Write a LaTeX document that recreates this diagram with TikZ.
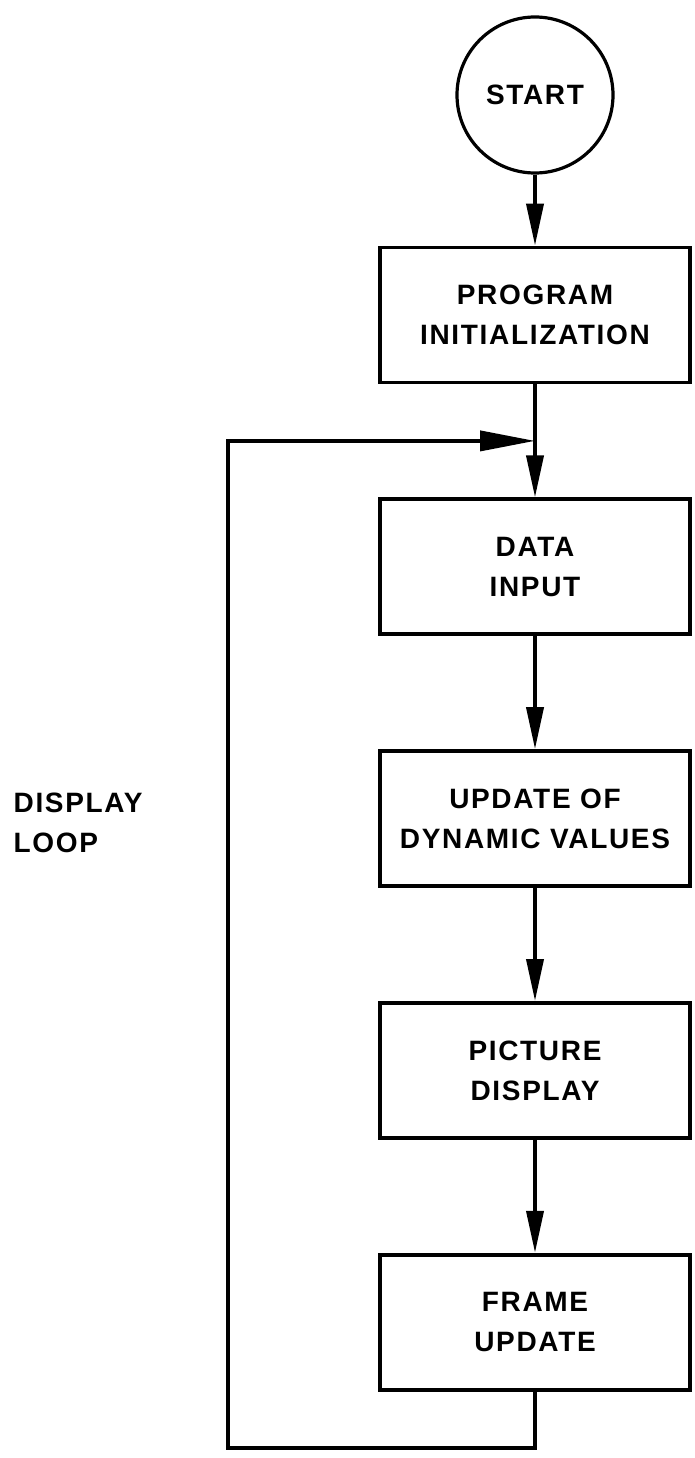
\documentclass[tikz,border=0pt]{standalone}
\usepackage{fontspec}
\newfontfamily\chartfont{Liberation Sans}[LetterSpace=6]
\usetikzlibrary{arrows.meta, positioning, backgrounds, calc}

\begin{document}
\begin{tikzpicture}[
	background rectangle/.style={fill=white},
    show background rectangle,
    % Styles for blocks and arrows
    every node/.style={font=\chartfont\bfseries\fontsize{28}{40}\selectfont},
    block/.style={draw, rectangle, minimum height=135pt, minimum width=310pt, line width=3.8pt, align=center},
    terminal/.style={draw, circle, inner sep=0pt, minimum size=156pt, line width=3.2pt},
    connector/.style={-{Triangle[length=42pt, width=17pt]}, line width=3.8pt},
    loopback/.style={-{Triangle[length=55pt, width=20pt]}, line width=3.8pt},
    node distance=113pt
]
    \useasboundingbox (0,0) rectangle (694pt,-1458pt);

    % --- NODES ---
    % Starting from top to bottom
    \node [terminal] (start) at (535pt,-95pt) {START};
    \node [block, below=71pt of start] (init) {PROGRAM\\INITIALIZATION};
    \node [block, below=of init] (data) {DATA\\INPUT};
    \node [block, below=of data] (update) {UPDATE OF\\DYNAMIC VALUES};
    \node [block, below=of update] (picture) {PICTURE\\DISPLAY};
    \node [block, below=of picture] (frame) {FRAME\\UPDATE};

    % Loop label
    \node [anchor=west, align=left] (looplabel) at ([xshift=-368pt, yshift=-4pt]update.west) {DISPLAY\\LOOP};

    % Junction where the loop comes back in
    \coordinate (join) at ($(init.south)!0.5!(data.north)$);

    % --- CONNECTIONS ---
    % Forward path
    \draw [connector] (start) -- (init);
    \draw [line width=3.8pt] (init) -- (join);
    \draw [connector] (join) -- (data);
    \draw [connector] (data) -- (update);
    \draw [connector] (update) -- (picture);
    \draw [connector] (picture) -- (frame);

    % Display loop
    \draw [loopback] (frame.south) -- ++(0,-56pt) -| ([xshift=-307pt]join) -- (join);

\end{tikzpicture}
\end{document}
